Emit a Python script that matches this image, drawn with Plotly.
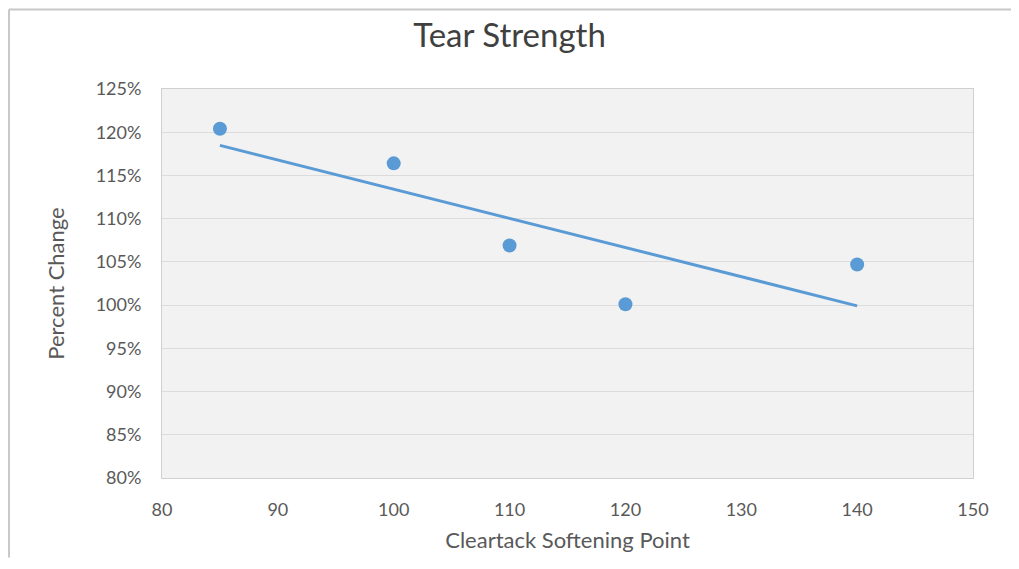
import numpy as np
import plotly.graph_objects as go

softening_point = [85, 100, 110, 120, 140]
percent_change = [1.204, 1.164, 1.069, 1.001, 1.047]

x_ticks = [80, 90, 100, 110, 120, 130, 140, 150]
y_ticks = [0.80, 0.85, 0.90, 0.95, 1.00, 1.05, 1.10, 1.15, 1.20, 1.25]

# linear trendline (least squares, as in the original spreadsheet)
slope, intercept = np.polyfit(softening_point, percent_change, 1)
trend_x = [min(softening_point), max(softening_point)]
trend_y = [slope * v + intercept for v in trend_x]

blue = "#5b9bd5"
font = "Lato, 'Open Sans', sans-serif"

fig = go.Figure()
fig.add_trace(go.Scatter(x=trend_x, y=trend_y, mode="lines",
                         line=dict(color=blue, width=3), hoverinfo="skip"))
fig.add_trace(go.Scatter(x=softening_point, y=percent_change, mode="markers",
                         marker=dict(color=blue, size=14)))

# page body has an 8px margin; place things relative to the screenshot
OFF = 8
W, H = 1019 - 2 * OFF, 569 - 2 * OFF
L, T = 162 - OFF, 89 - OFF
pw, ph = 811, 392
R, B = W - L - pw, H - T - ph

fig.update_layout(
    width=W, height=H,
    margin=dict(l=L, r=R, t=T, b=B),
    paper_bgcolor="white",
    plot_bgcolor="#f2f2f2",
    showlegend=False,
    font=dict(family=font, color="#595959"),
    title=dict(text="Tear Strength", x=0.5, xanchor="center",
               y=1 - (35 - OFF) / H, yanchor="middle",
               font=dict(size=33, color="#404040", family=font)),
    xaxis=dict(range=[80, 150], tickvals=x_ticks, showgrid=False, zeroline=False,
               showline=True, linecolor="#d0d0d0", mirror=True,
               tickfont=dict(size=18, color="#595959"), ticks="", ticklen=0,
               ticklabelstandoff=15,
               title=dict(text="Cleartack Softening Point", standoff=14,
                          font=dict(size=22, color="#595959"))),
    yaxis=dict(range=[0.80, 1.25], tickvals=y_ticks, tickformat=".0%",
               showgrid=True, gridcolor="#dcdcdc", gridwidth=1, zeroline=False,
               showline=True, linecolor="#d0d0d0", mirror=True,
               tickfont=dict(size=18, color="#595959"), ticks="", ticklen=0,
               ticklabelstandoff=16,
               title=dict(text="Percent Change", standoff=24,
                          font=dict(size=22, color="#595959"))),
)

# outer chart frame (top and left edges visible in the original)
x0 = (1 - L) / pw
y_top = 1 + (T - 1) / ph
fig.add_shape(type="line", xref="paper", yref="paper", x0=x0, x1=1 + R / pw,
              y0=y_top, y1=y_top, line=dict(color="#c8c8c8", width=2))
fig.add_shape(type="line", xref="paper", yref="paper", x0=x0, x1=x0,
              y0=-B / ph, y1=y_top, line=dict(color="#c8c8c8", width=2))

fig.write_html("out.html")
